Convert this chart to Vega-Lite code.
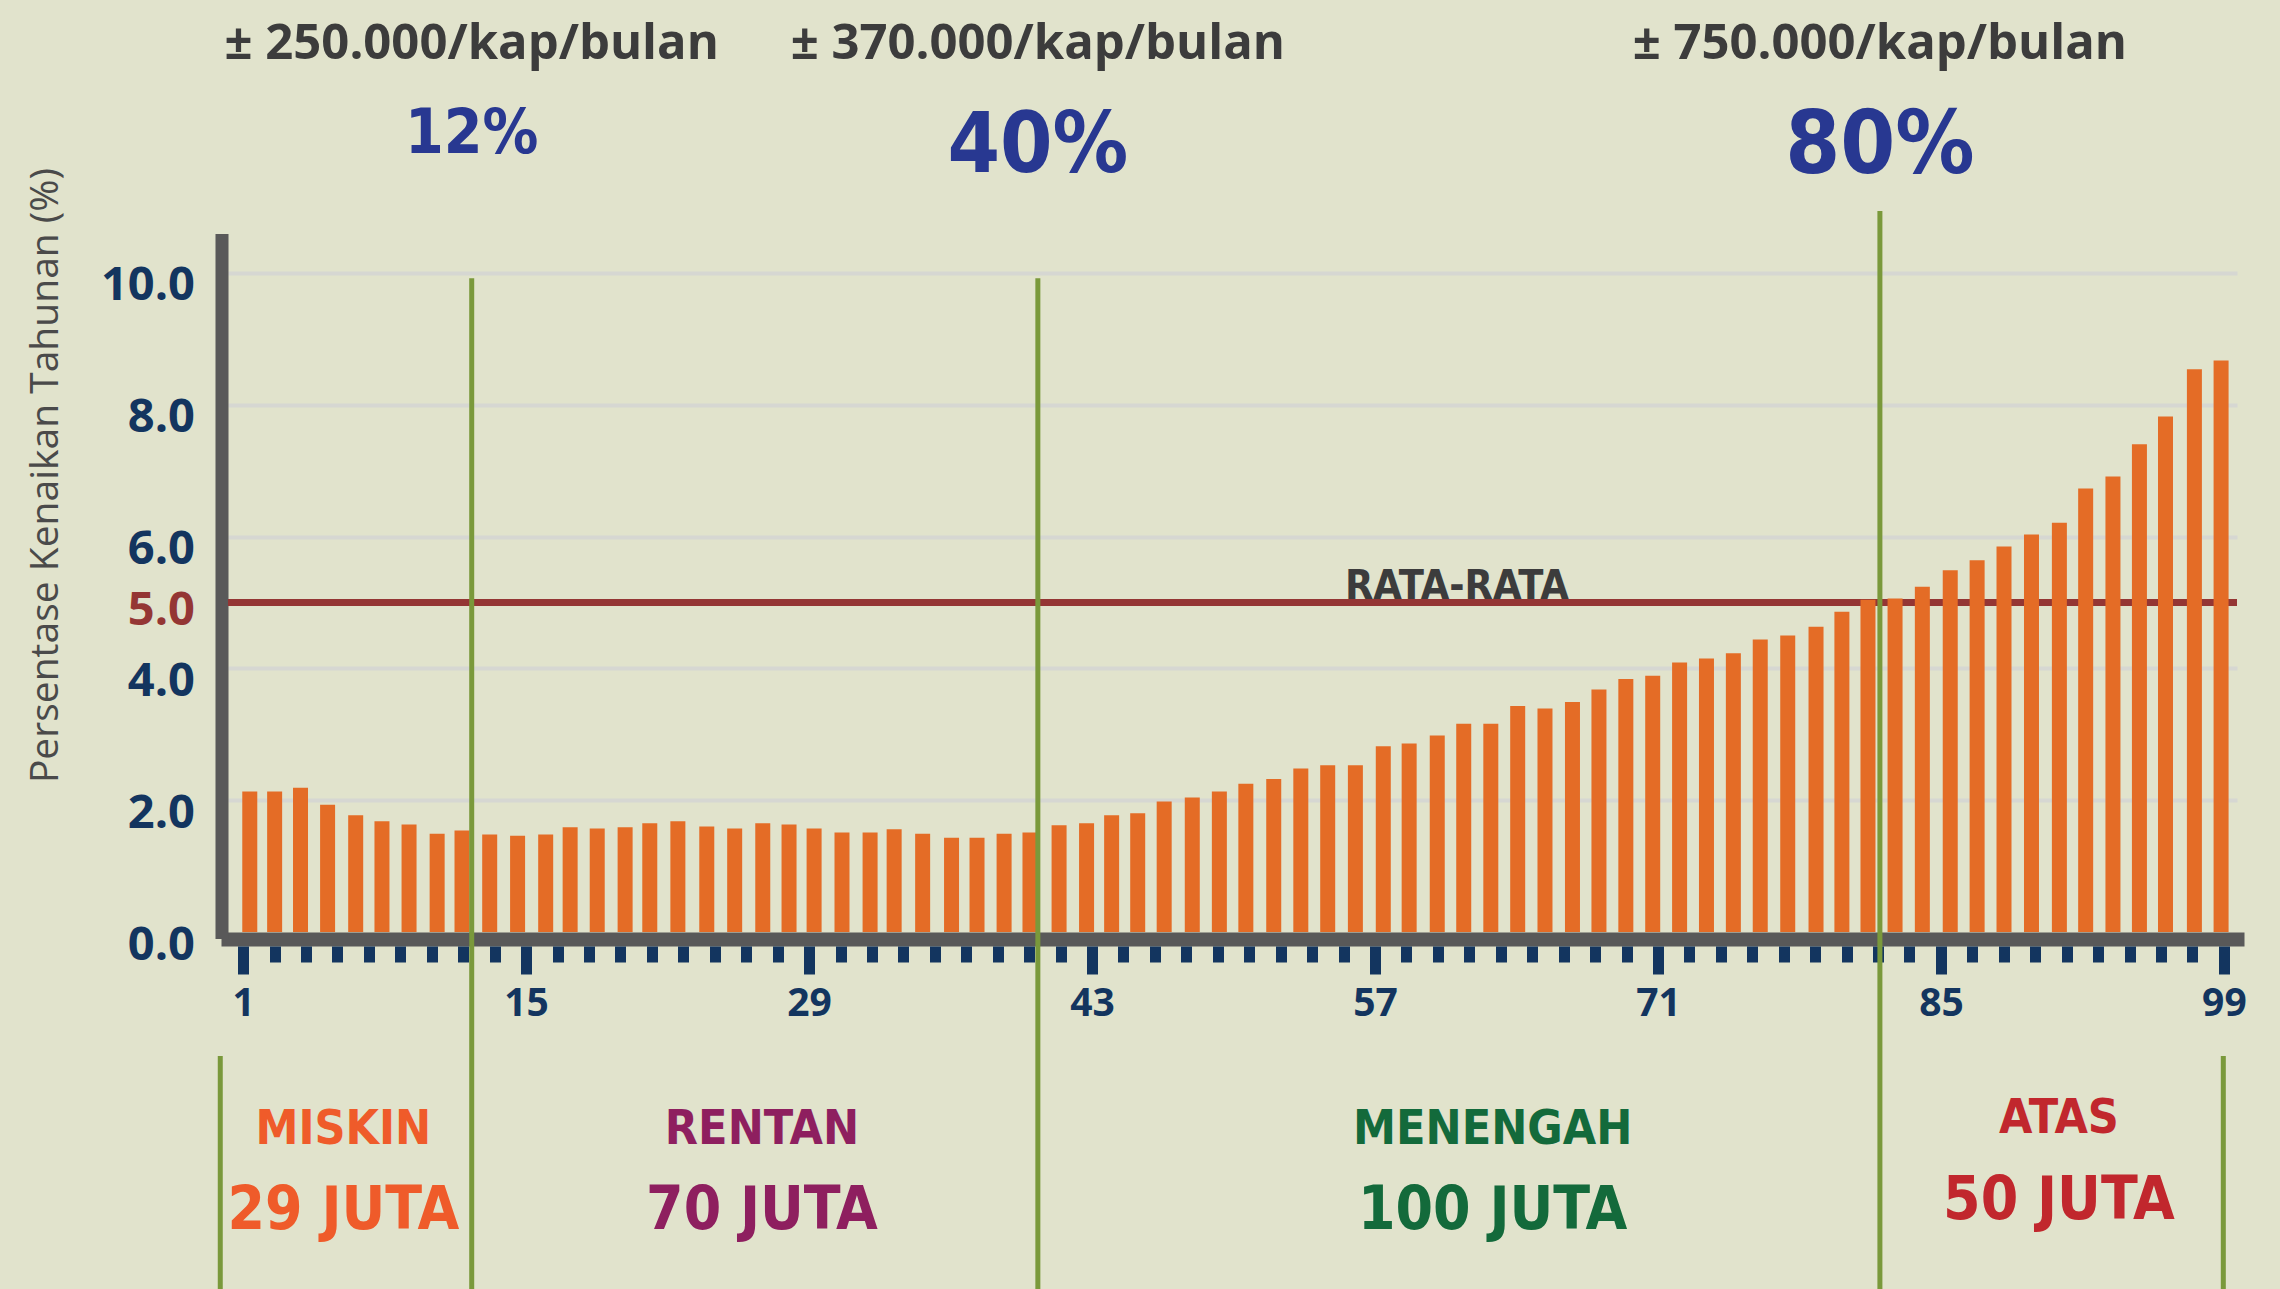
{
  "$schema": "https://vega.github.io/schema/vega-lite/v6.json",
  "width": 2009,
  "height": 692,
  "autosize": {"type": "none"},
  "padding": {"left": 228, "top": 240, "right": 43, "bottom": 357},
  "background": "#E1E3CC",
  "config": {"view": {"stroke": null}, "font": "Open Sans"},
  "resolve": {"axis": {"x": "independent", "y": "independent"}},
  "layer": [
    {
      "data": {"values": [{"rata_rata": 5}]},
      "mark": {"type": "rule", "color": "#943634", "strokeWidth": 7},
      "encoding": {
        "y": {"field": "rata_rata", "type": "quantitative",
          "scale": {"domain": [0, 10.5], "nice": false, "zero": false},
          "axis": {"orient": "left", "values": [5], "format": ".1f", "grid": false, "domain": false, "ticks": false, "tickSize": 0,
            "offset": 6.5, "labelPadding": 27, "labelColor": "#943634", "labelFont": "Open Sans", "labelFontWeight": "bold",
            "labelFontSize": 47, "labelOffset": 8, "title": null}}
      }
    },
    {
      "data": {"values": [
        {"persentil": 1.33, "kenaikan": 2.13}, {"persentil": 2.56, "kenaikan": 2.13}, {"persentil": 3.84, "kenaikan": 2.19},
        {"persentil": 5.18, "kenaikan": 1.93}, {"persentil": 6.57, "kenaikan": 1.77}, {"persentil": 7.87, "kenaikan": 1.68},
        {"persentil": 9.21, "kenaikan": 1.63}, {"persentil": 10.60, "kenaikan": 1.49}, {"persentil": 11.83, "kenaikan": 1.54},
        {"persentil": 13.20, "kenaikan": 1.48}, {"persentil": 14.58, "kenaikan": 1.46}, {"persentil": 15.97, "kenaikan": 1.48},
        {"persentil": 17.18, "kenaikan": 1.59}, {"persentil": 18.52, "kenaikan": 1.57}, {"persentil": 19.90, "kenaikan": 1.59},
        {"persentil": 21.12, "kenaikan": 1.65}, {"persentil": 22.51, "kenaikan": 1.68}, {"persentil": 23.94, "kenaikan": 1.60},
        {"persentil": 25.32, "kenaikan": 1.57}, {"persentil": 26.71, "kenaikan": 1.65}, {"persentil": 28.01, "kenaikan": 1.63},
        {"persentil": 29.25, "kenaikan": 1.57}, {"persentil": 30.63, "kenaikan": 1.51}, {"persentil": 32.02, "kenaikan": 1.51},
        {"persentil": 33.21, "kenaikan": 1.56}, {"persentil": 34.62, "kenaikan": 1.49}, {"persentil": 36.05, "kenaikan": 1.43},
        {"persentil": 37.31, "kenaikan": 1.43}, {"persentil": 38.65, "kenaikan": 1.49}, {"persentil": 39.93, "kenaikan": 1.51},
        {"persentil": 41.37, "kenaikan": 1.62}, {"persentil": 42.73, "kenaikan": 1.65}, {"persentil": 43.97, "kenaikan": 1.77},
        {"persentil": 45.26, "kenaikan": 1.80}, {"persentil": 46.57, "kenaikan": 1.98}, {"persentil": 47.96, "kenaikan": 2.04},
        {"persentil": 49.30, "kenaikan": 2.13}, {"persentil": 50.61, "kenaikan": 2.25}, {"persentil": 51.99, "kenaikan": 2.32},
        {"persentil": 53.33, "kenaikan": 2.48}, {"persentil": 54.66, "kenaikan": 2.53}, {"persentil": 56.03, "kenaikan": 2.53},
        {"persentil": 57.41, "kenaikan": 2.82}, {"persentil": 58.69, "kenaikan": 2.86}, {"persentil": 60.08, "kenaikan": 2.98},
        {"persentil": 61.39, "kenaikan": 3.16}, {"persentil": 62.73, "kenaikan": 3.16}, {"persentil": 64.06, "kenaikan": 3.43},
        {"persentil": 65.41, "kenaikan": 3.39}, {"persentil": 66.77, "kenaikan": 3.49}, {"persentil": 68.08, "kenaikan": 3.68},
        {"persentil": 69.41, "kenaikan": 3.84}, {"persentil": 70.74, "kenaikan": 3.89}, {"persentil": 72.07, "kenaikan": 4.09},
        {"persentil": 73.40, "kenaikan": 4.15}, {"persentil": 74.73, "kenaikan": 4.23}, {"persentil": 76.06, "kenaikan": 4.44},
        {"persentil": 77.42, "kenaikan": 4.50}, {"persentil": 78.82, "kenaikan": 4.63}, {"persentil": 80.10, "kenaikan": 4.86},
        {"persentil": 81.39, "kenaikan": 5.04}, {"persentil": 82.73, "kenaikan": 5.06}, {"persentil": 84.08, "kenaikan": 5.24},
        {"persentil": 85.46, "kenaikan": 5.49}, {"persentil": 86.79, "kenaikan": 5.64}, {"persentil": 88.12, "kenaikan": 5.85},
        {"persentil": 89.48, "kenaikan": 6.03}, {"persentil": 90.86, "kenaikan": 6.21}, {"persentil": 92.16, "kenaikan": 6.73},
        {"persentil": 93.51, "kenaikan": 6.91}, {"persentil": 94.82, "kenaikan": 7.40}, {"persentil": 96.11, "kenaikan": 7.82},
        {"persentil": 97.54, "kenaikan": 8.54}, {"persentil": 98.86, "kenaikan": 8.67}
      ]},
      "mark": {"type": "bar", "color": "#E46C26", "size": 15},
      "encoding": {
        "x": {"field": "persentil", "type": "quantitative",
          "scale": {"domain": [0.5, 99.4], "nice": false, "zero": false},
          "axis": {"orient": "bottom", "offset": 7, "domain": true, "domainColor": "#595959", "domainWidth": 14, "domainCap": "square",
            "ticks": false, "labels": false, "grid": false, "title": null}},
        "y": {"field": "kenaikan", "type": "quantitative",
          "scale": {"domain": [0, 10.5], "nice": false, "zero": false},
          "axis": {"orient": "left", "values": [0, 2, 4, 6, 8, 10], "format": ".1f",
            "grid": true, "gridColor": "#D6D7D2", "gridWidth": 4,
            "gridOpacity": {"condition": {"test": "datum.value === 0", "value": 0}, "value": 1},
            "domain": true, "domainColor": "#595959", "domainWidth": 13, "domainCap": "square", "offset": 6.5,
            "ticks": false, "tickSize": 0, "labelPadding": 27, "labelColor": "#13355F", "labelFont": "Open Sans",
            "labelFontWeight": "bold", "labelFontSize": 47, "labelOffset": 13,
            "title": "Persentase Kenaikan Tahunan (%)", "titleFont": "Open Sans", "titleFontWeight": "normal",
            "titleFontSize": 39, "titleColor": "#4A4A4A", "titleAngle": -90, "titleX": -164, "titleY": 235,
            "titleAlign": "center", "titleBaseline": "alphabetic"}}
      }
    },
    {
      "data": {"values": [{"batas": 12.31}, {"batas": 40.32}]},
      "mark": {"type": "rule", "color": "#7A993B", "strokeWidth": 5},
      "encoding": {
        "x": {"field": "batas", "type": "quantitative",
          "scale": {"domain": [0.5, 99.4], "nice": false, "zero": false},
          "axis": {"orient": "bottom", "offset": 14, "domain": false, "grid": false, "labels": false, "ticks": true,
            "tickColor": "#13355F", "tickWidth": 11, "tickSize": 16, "title": null,
            "values": [2.556, 4.111, 5.667, 7.222, 8.778, 10.333, 11.889, 13.444,
              16.556, 18.111, 19.667, 21.222, 22.778, 24.333, 25.889, 27.444,
              30.556, 32.111, 33.667, 35.222, 36.778, 38.333, 39.889, 41.444,
              44.556, 46.111, 47.667, 49.222, 50.778, 52.333, 53.889, 55.444,
              58.556, 60.111, 61.667, 63.222, 64.778, 66.333, 67.889, 69.444,
              72.556, 74.111, 75.667, 77.222, 78.778, 80.333, 81.889, 83.444,
              86.556, 88.111, 89.667, 91.222, 92.778, 94.333, 95.889, 97.444]}},
        "y": {"datum": 9.92, "type": "quantitative", "scale": {"domain": [0, 10.5], "nice": false, "zero": false}, "axis": null},
        "y2": {"datum": -5.5}
      }
    },
    {
      "data": {"values": [{"batas": 81.98}]},
      "mark": {"type": "rule", "color": "#7A993B", "strokeWidth": 5},
      "encoding": {
        "x": {"field": "batas", "type": "quantitative",
          "scale": {"domain": [0.5, 99.4], "nice": false, "zero": false},
          "axis": {"orient": "bottom", "offset": 14, "values": [1, 15, 29, 43, 57, 71, 85, 99], "domain": false, "grid": false,
            "ticks": true, "tickColor": "#13355F", "tickWidth": 11, "tickSize": 28, "labelPadding": 10,
            "labelColor": "#13355F", "labelFont": "Open Sans", "labelFontWeight": "bold", "labelFontSize": 39,
            "labelFlush": false, "labelOverlap": false, "title": null}},
        "y": {"datum": 10.94, "type": "quantitative", "scale": {"domain": [0, 10.5], "nice": false, "zero": false}, "axis": null},
        "y2": {"datum": -5.5}
      }
    },
    {
      "data": {"values": [{"batas": -0.13}, {"batas": 98.97}]},
      "mark": {"type": "rule", "color": "#7A993B", "strokeWidth": 5},
      "encoding": {
        "x": {"field": "batas", "type": "quantitative", "scale": {"domain": [0.5, 99.4], "nice": false, "zero": false}, "axis": null},
        "y": {"datum": -1.88, "type": "quantitative", "scale": {"domain": [0, 10.5], "nice": false, "zero": false}, "axis": null},
        "y2": {"datum": -5.5}
      }
    },
    {
      "data": {"values": [
        {"batas": 12.31, "teks": "± 250.000/kap/bulan"},
        {"batas": 40.32, "teks": "± 370.000/kap/bulan"},
        {"batas": 81.98, "teks": "± 750.000/kap/bulan"}
      ]},
      "mark": {"type": "text", "font": "Open Sans", "fontWeight": "bold", "fontSize": 49, "color": "#3C3C3C", "align": "center", "baseline": "alphabetic"},
      "encoding": {
        "x": {"field": "batas", "type": "quantitative", "scale": {"domain": [0.5, 99.4], "nice": false, "zero": false}, "axis": null},
        "y": {"datum": 13.25, "type": "quantitative", "scale": {"domain": [0, 10.5], "nice": false, "zero": false}, "axis": null},
        "text": {"field": "teks"}
      }
    },
    {
      "data": {"values": [{"batas": 12.31, "teks": "12%"}]},
      "mark": {"type": "text", "font": "Liberation Sans Narrow, DejaVu Sans Condensed, sans-serif", "fontWeight": "bold", "fontSize": 62, "color": "#283891", "align": "center", "baseline": "alphabetic"},
      "encoding": {
        "x": {"field": "batas", "type": "quantitative", "scale": {"domain": [0.5, 99.4], "nice": false, "zero": false}, "axis": null},
        "y": {"datum": 11.82, "type": "quantitative", "scale": {"domain": [0, 10.5], "nice": false, "zero": false}, "axis": null},
        "text": {"field": "teks"}
      }
    },
    {
      "data": {"values": [{"batas": 40.32, "teks": "40%"}]},
      "mark": {"type": "text", "font": "Liberation Sans Narrow, DejaVu Sans Condensed, sans-serif", "fontWeight": "bold", "fontSize": 84, "color": "#283891", "align": "center", "baseline": "alphabetic"},
      "encoding": {
        "x": {"field": "batas", "type": "quantitative", "scale": {"domain": [0.5, 99.4], "nice": false, "zero": false}, "axis": null},
        "y": {"datum": 11.53, "type": "quantitative", "scale": {"domain": [0, 10.5], "nice": false, "zero": false}, "axis": null},
        "text": {"field": "teks"}
      }
    },
    {
      "data": {"values": [{"batas": 81.98, "teks": "80%"}]},
      "mark": {"type": "text", "font": "Liberation Sans Narrow, DejaVu Sans Condensed, sans-serif", "fontWeight": "bold", "fontSize": 88, "color": "#283891", "align": "center", "baseline": "alphabetic"},
      "encoding": {
        "x": {"field": "batas", "type": "quantitative", "scale": {"domain": [0.5, 99.4], "nice": false, "zero": false}, "axis": null},
        "y": {"datum": 11.52, "type": "quantitative", "scale": {"domain": [0, 10.5], "nice": false, "zero": false}, "axis": null},
        "text": {"field": "teks"}
      }
    },
    {
      "data": {"values": [{"tengah": 61.05, "teks": "RATA-RATA"}]},
      "mark": {"type": "text", "font": "Liberation Sans Narrow, DejaVu Sans Condensed, sans-serif", "fontWeight": "bold", "fontSize": 41, "color": "#3C3C3C", "align": "center", "baseline": "alphabetic"},
      "encoding": {
        "x": {"field": "tengah", "type": "quantitative", "scale": {"domain": [0.5, 99.4], "nice": false, "zero": false}, "axis": null},
        "y": {"datum": 5.05, "type": "quantitative", "scale": {"domain": [0, 10.5], "nice": false, "zero": false}, "axis": null},
        "text": {"field": "teks"}
      }
    },
    {
      "data": {"values": [
        {"tengah": 5.96, "kelompok": "MISKIN"},
        {"tengah": 26.67, "kelompok": "RENTAN"},
        {"tengah": 62.82, "kelompok": "MENENGAH"}
      ]},
      "mark": {"type": "text", "font": "Liberation Sans Narrow, DejaVu Sans Condensed, sans-serif", "fontWeight": "bold", "fontSize": 48, "align": "center", "baseline": "alphabetic"},
      "encoding": {
        "x": {"field": "tengah", "type": "quantitative", "scale": {"domain": [0.5, 99.4], "nice": false, "zero": false}, "axis": null},
        "y": {"datum": -3.22, "type": "quantitative", "scale": {"domain": [0, 10.5], "nice": false, "zero": false}, "axis": null},
        "text": {"field": "kelompok"},
        "color": {"field": "kelompok", "type": "nominal", "legend": null,
          "scale": {"domain": ["MISKIN", "RENTAN", "MENENGAH", "ATAS"], "range": ["#EF5B2A", "#8E1F5F", "#136A3B", "#C1272D"]}}
      }
    },
    {
      "data": {"values": [{"tengah": 90.84, "kelompok": "ATAS"}]},
      "mark": {"type": "text", "font": "Liberation Sans Narrow, DejaVu Sans Condensed, sans-serif", "fontWeight": "bold", "fontSize": 48, "align": "center", "baseline": "alphabetic"},
      "encoding": {
        "x": {"field": "tengah", "type": "quantitative", "scale": {"domain": [0.5, 99.4], "nice": false, "zero": false}, "axis": null},
        "y": {"datum": -3.05, "type": "quantitative", "scale": {"domain": [0, 10.5], "nice": false, "zero": false}, "axis": null},
        "text": {"field": "kelompok"},
        "color": {"field": "kelompok", "type": "nominal", "legend": null,
          "scale": {"domain": ["MISKIN", "RENTAN", "MENENGAH", "ATAS"], "range": ["#EF5B2A", "#8E1F5F", "#136A3B", "#C1272D"]}}
      }
    },
    {
      "data": {"values": [
        {"tengah": 5.96, "kelompok": "MISKIN", "jumlah": "29 JUTA"},
        {"tengah": 26.67, "kelompok": "RENTAN", "jumlah": "70 JUTA"},
        {"tengah": 62.82, "kelompok": "MENENGAH", "jumlah": "100 JUTA"}
      ]},
      "mark": {"type": "text", "font": "Liberation Sans Narrow, DejaVu Sans Condensed, sans-serif", "fontWeight": "bold", "fontSize": 60, "align": "center", "baseline": "alphabetic"},
      "encoding": {
        "x": {"field": "tengah", "type": "quantitative", "scale": {"domain": [0.5, 99.4], "nice": false, "zero": false}, "axis": null},
        "y": {"datum": -4.51, "type": "quantitative", "scale": {"domain": [0, 10.5], "nice": false, "zero": false}, "axis": null},
        "text": {"field": "jumlah"},
        "color": {"field": "kelompok", "type": "nominal", "legend": null,
          "scale": {"domain": ["MISKIN", "RENTAN", "MENENGAH", "ATAS"], "range": ["#EF5B2A", "#8E1F5F", "#136A3B", "#C1272D"]}}
      }
    },
    {
      "data": {"values": [{"tengah": 90.84, "kelompok": "ATAS", "jumlah": "50 JUTA"}]},
      "mark": {"type": "text", "font": "Liberation Sans Narrow, DejaVu Sans Condensed, sans-serif", "fontWeight": "bold", "fontSize": 60, "align": "center", "baseline": "alphabetic"},
      "encoding": {
        "x": {"field": "tengah", "type": "quantitative", "scale": {"domain": [0.5, 99.4], "nice": false, "zero": false}, "axis": null},
        "y": {"datum": -4.36, "type": "quantitative", "scale": {"domain": [0, 10.5], "nice": false, "zero": false}, "axis": null},
        "text": {"field": "jumlah"},
        "color": {"field": "kelompok", "type": "nominal", "legend": null,
          "scale": {"domain": ["MISKIN", "RENTAN", "MENENGAH", "ATAS"], "range": ["#EF5B2A", "#8E1F5F", "#136A3B", "#C1272D"]}}
      }
    }
  ]
}
